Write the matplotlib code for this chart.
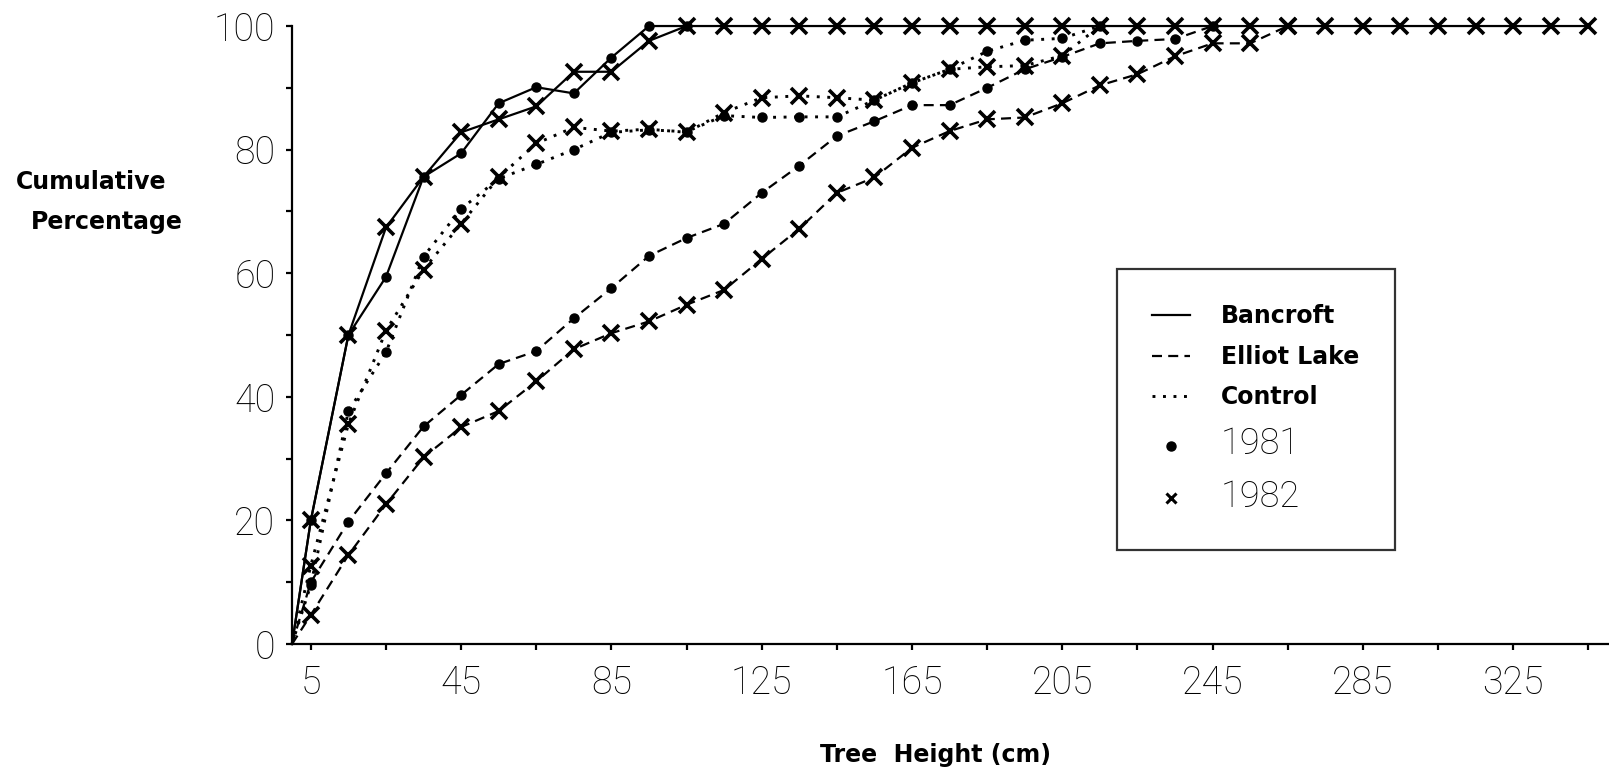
import matplotlib
matplotlib.use("Agg")
import matplotlib.pyplot as plt
from matplotlib.lines import Line2D

# tree height classes (cm), 0 = origin of every curve
heights = [0, 5, 15, 25, 35, 45, 55, 65, 75, 85, 95, 105, 115, 125, 135, 145,
           155, 165, 175, 185, 195, 205, 215, 225, 235, 245, 255, 265, 275,
           285, 295, 305, 315, 325, 335, 345]

# cumulative percentages
bancroft_81 = [0, 20, 50, 59.4, 75.6, 79.4, 87.5, 90.1, 89.1, 94.9, 100, 100]
bancroft_82 = [0, 20, 50, 67.4, 75.6, 82.8, 84.9, 87.0, 92.6, 92.6, 97.6, 100,
               100, 100, 100, 100, 100, 100, 100, 100, 100, 100, 100, 100, 100,
               100, 100, 100, 100, 100, 100, 100, 100, 100, 100, 100]
elliot_81 = [0, 10.0, 19.8, 27.6, 35.2, 40.3, 45.3, 47.4, 52.7, 57.6, 62.8, 65.7,
             68.0, 73.0, 77.4, 82.2, 84.6, 87.2, 87.2, 90.0, 93.0, 95.0, 97.2,
             97.6, 97.9, 100]
elliot_82 = [0, 4.7, 14.4, 22.6, 30.2, 35.1, 37.7, 42.5, 47.7, 50.3, 52.2, 54.9,
             57.3, 62.3, 67.2, 73.0, 75.5, 80.3, 83.0, 84.9, 85.2, 87.5, 90.4,
             92.2, 95.1, 97.2, 97.2, 100]
control_81 = [0, 9.6, 37.7, 47.2, 62.7, 70.4, 75.3, 77.6, 80.0, 82.8, 83.2, 82.9,
              85.5, 85.2, 85.3, 85.3, 88.0, 90.8, 93.0, 95.9, 97.7, 98.0, 100]
control_82 = [0, 12.7, 35.6, 50.7, 60.6, 68.0, 75.5, 81.0, 83.6, 83.0, 83.3, 82.8,
              86.0, 88.4, 88.7, 88.4, 88.0, 90.8, 93.0, 93.4, 93.6, 95.2, 100]

xticks_major = [5, 45, 85, 125, 165, 205, 245, 285, 325]
xticks_minor = [25, 65, 105, 145, 185, 225, 265, 305, 345]
yticks_major = [0, 20, 40, 60, 80, 100]
yticks_minor = [10, 30, 50, 70, 90]

solid = '-'
dashed = (0, (4.5, 2.8))
dotted = (0, (1, 2.6))

fig = plt.figure(figsize=(16.09, 7.70), dpi=100)
ax = fig.add_axes([0.1815, 0.1636, 0.8185, 0.8026])

lw = 1.6
lw_dot = 2.1
dot_kw = dict(marker='o', ms=6.5, color='k', clip_on=False)
x_kw = dict(marker='x', ms=11, mew=2.6, color='k', clip_on=False)

series = [
    (elliot_81, dashed, lw, dot_kw),
    (control_81, dotted, lw_dot, dot_kw),
    (bancroft_81, solid, lw, dot_kw),
    (elliot_82, dashed, lw, x_kw),
    (control_82, dotted, lw_dot, x_kw),
    (bancroft_82, solid, lw, x_kw),
]
for vals, ls, w, kw in series:
    # no marker at the origin
    ax.plot(heights[:len(vals)], vals, ls=ls, lw=w, markevery=slice(1, None), **kw)

ax.set_xlim(0, 350.5)
ax.set_ylim(0, 100)
for s in ['top', 'right']:
    ax.spines[s].set_visible(False)
for s in ['left', 'bottom']:
    ax.spines[s].set_linewidth(1.6)

ax.set_xticks(xticks_major)
ax.set_xticks(xticks_minor, minor=True)
ax.set_yticks(yticks_major)
ax.set_yticks(yticks_minor, minor=True)
ax.tick_params(which='both', direction='out', width=1.6, length=4)
ax.tick_params(axis='x', pad=11)
ax.tick_params(axis='y', pad=8)

for lab in ax.get_xticklabels() + ax.get_yticklabels():
    lab.set_fontfamily('Roboto')
    lab.set_fontweight('light')
    lab.set_fontsize(27)

label_font = dict(family='DejaVu Sans', weight='bold', size=17)
fig.text(91 / 1609, 1 - 182 / 770, 'Cumulative', ha='center', va='center', **label_font)
fig.text(107 / 1609, 1 - 222 / 770, 'Percentage', ha='center', va='center', **label_font)
fig.text(936 / 1609, 1 - 755 / 770, 'Tree  Height (cm)', ha='center', va='center', **label_font)

handles = [
    Line2D([], [], color='k', lw=lw, ls=solid),
    Line2D([], [], color='k', lw=lw, ls=dashed),
    Line2D([], [], color='k', lw=lw_dot, ls=dotted),
    Line2D([], [], color='k', marker='o', ms=6.5, ls='none'),
    Line2D([], [], color='k', marker='x', ms=7, mew=2.2, ls='none'),
]
labels = ['Bancroft', 'Elliot Lake', 'Control', '1981', '1982']
leg = fig.legend(handles, labels, loc='upper left',
                 bbox_to_anchor=(1117 / 1609, 1 - 269 / 770),
                 prop=dict(family='DejaVu Sans', weight='bold', size=17),
                 frameon=True, fancybox=False, borderpad=1.5,
                 handlelength=1.6, handletextpad=1.3, labelspacing=0.7,
                 borderaxespad=0)
leg.get_frame().set_edgecolor('k')
leg.get_frame().set_linewidth(1.6)
for t in leg.get_texts()[3:]:
    t.set_fontfamily('Roboto')
    t.set_fontweight('light')
    t.set_fontsize(26)

fig.savefig('out.png', dpi=100)
